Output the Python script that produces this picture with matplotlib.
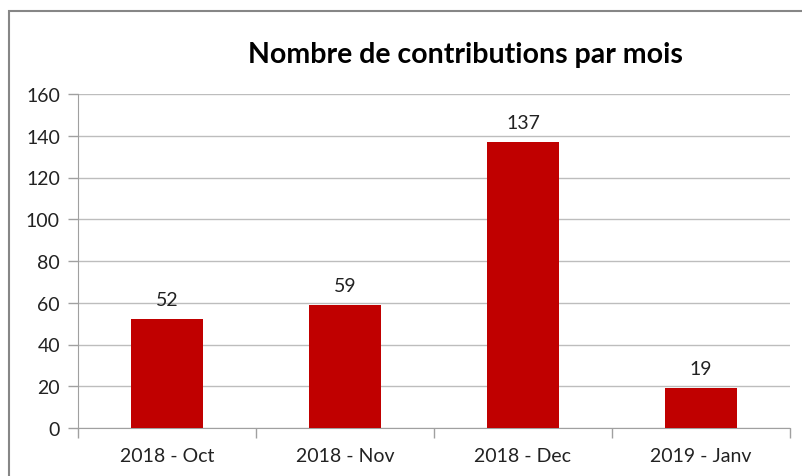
import matplotlib
matplotlib.use('Agg')
import matplotlib.pyplot as plt
from matplotlib.patches import Rectangle

mois = ['2018 - Oct', '2018 - Nov', '2018 - Dec', '2019 - Janv']
contributions = [52, 59, 137, 19]
yticks = [0, 20, 40, 60, 80, 100, 120, 140, 160]

plt.rcParams['font.family'] = ['Lato', 'DejaVu Sans']

fig = plt.figure(figsize=(8.02, 4.77), dpi=100)
ax = fig.add_axes([78/802, 48/477, 712/802, 334/477])

x = range(len(mois))
ax.bar(x, contributions, width=0.40, color='#C00000', zorder=3)
for i, v in enumerate(contributions):
    ax.annotate(str(v), (i, v), xytext=(0, 8), textcoords='offset points',
                ha='center', va='bottom', fontsize=14, color='#222222')

ax.set_xlim(-0.5, len(mois) - 0.5)
ax.set_ylim(0, 160)
ax.set_yticks(yticks)
ax.set_xticks(list(x))
ax.set_xticklabels(mois, fontsize=14, color='#222222')
ax.set_xticks([i - 0.5 for i in range(len(mois) + 1)], minor=True)
ax.tick_params(axis='x', which='major', length=0, pad=14)
ax.tick_params(axis='x', which='minor', length=7, color='#A0A0A0', width=1)
ax.tick_params(axis='y', length=7, color='#A0A0A0', width=1, labelsize=14,
               labelcolor='#222222', pad=6)
ax.grid(axis='y', color='#BDBDBD', linewidth=1, zorder=0)
for s in ['top', 'right']:
    ax.spines[s].set_visible(False)
ax.spines['left'].set_color('#A0A0A0')
ax.spines['bottom'].set_color('#A0A0A0')

fig.text(465/802, 1 - 55/477, 'Nombre de contributions par mois', ha='center',
         va='center', fontsize=20.5, fontweight='bold', color='#000000')

fig.patches.append(Rectangle((9/802, -0.1), 1.2, (477 - 12)/477 + 0.1,
                             transform=fig.transFigure, fill=False,
                             edgecolor='#868686', linewidth=1.5))

fig.savefig('out.png', dpi=100)
